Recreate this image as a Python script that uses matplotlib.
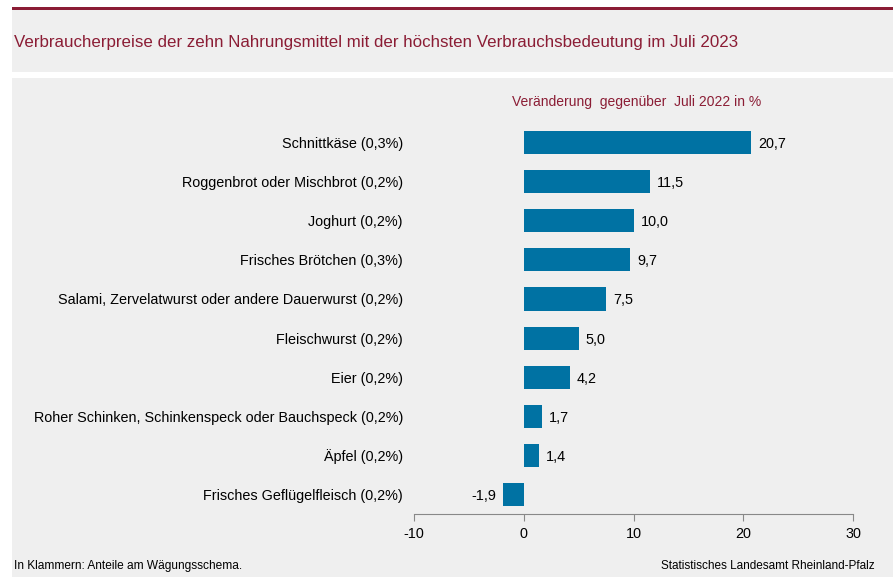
import matplotlib
matplotlib.use("Agg")
import matplotlib.pyplot as plt
from matplotlib.patches import Rectangle

plt.rcParams['font.family'] = ['Liberation Sans', 'DejaVu Sans']

categories = [
    "Schnittkäse (0,3%)",
    "Roggenbrot oder Mischbrot (0,2%)",
    "Joghurt (0,2%)",
    "Frisches Brötchen (0,3%)",
    "Salami, Zervelatwurst oder andere Dauerwurst (0,2%)",
    "Fleischwurst (0,2%)",
    "Eier (0,2%)",
    "Roher Schinken, Schinkenspeck oder Bauchspeck (0,2%)",
    "Äpfel (0,2%)",
    "Frisches Geflügelfleisch (0,2%)",
]
values = [20.7, 11.5, 10.0, 9.7, 7.5, 5.0, 4.2, 1.7, 1.4, -1.9]
xticks = [-10, 0, 10, 20, 30]

W, H = 893, 583
fig = plt.figure(figsize=(W / 100, H / 100), dpi=100, facecolor='white')

def px_rect(x0, y0, x1, y1, color):
    fig.patches.append(Rectangle((x0 / W, 1 - y1 / H), (x1 - x0) / W, (y1 - y0) / H,
                                 transform=fig.transFigure, facecolor=color,
                                 edgecolor='none', zorder=-5))

red = '#8B1D35'
px_rect(12, 7, W, 10, red)
px_rect(12, 10, W, 72, '#EFEFEF')
px_rect(12, 78, W, 577, '#EFEFEF')

fig.text(14 / W, 1 - 42 / H, "Verbraucherpreise der zehn Nahrungsmittel mit der höchsten Verbrauchsbedeutung im Juli 2023",
         color=red, fontsize=12.2, va='center', ha='left')

ax = fig.add_axes([414 / W, 1 - 514 / H, 439 / W, 395.2 / H])
ax.set_zorder(1)
ax.set_facecolor('none')
pos = list(range(len(categories)))
bar_color = '#0072A3'
ax.barh(pos, values, height=0.59, color=bar_color)
ax.set_xlim(-10, 30)
ax.set_ylim(9.504, -0.612)
ax.set_xticks(xticks)
ax.set_xticklabels([str(t) for t in xticks], fontsize=10.4)
ax.set_yticks(pos)
ax.set_yticklabels(categories, fontsize=10.4, va='center_baseline')
ax.tick_params(axis='y', length=0, pad=8)
ax.tick_params(axis='x', length=5, color='#888888', pad=4)
for s in ['top', 'right', 'left']:
    ax.spines[s].set_visible(False)
ax.spines['bottom'].set_color('#888888')

for p, v in zip(pos, values):
    lab = f"{v:.1f}".replace('.', ',')
    if v >= 0:
        ax.annotate(lab, (v, p), xytext=(5, 0), textcoords='offset points',
                    ha='left', va='center_baseline', fontsize=10.4)
    else:
        ax.annotate(lab, (v, p), xytext=(-5, 0), textcoords='offset points',
                    ha='right', va='center_baseline', fontsize=10.4)

fig.text(637 / W, 1 - 102 / H, "Veränderung  gegenüber  Juli 2022 in %", color=red,
         fontsize=10, ha='center', va='center')

fig.text(14 / W, 1 - 566 / H, "In Klammern: Anteile am Wägungsschema.", fontsize=8.6,
         ha='left', va='center')
fig.text(875 / W, 1 - 566 / H, "Statistisches Landesamt Rheinland-Pfalz", fontsize=8.5,
         ha='right', va='center')

fig.savefig("out.png", dpi=100, facecolor='white')
